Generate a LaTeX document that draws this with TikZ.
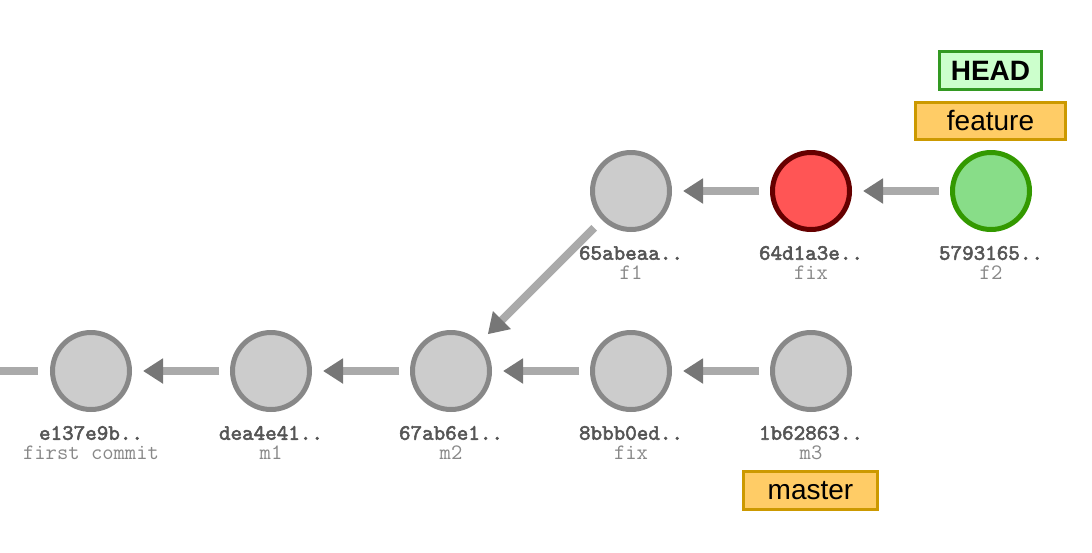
\documentclass[tikz,border=0pt]{standalone}
\usepackage{fontspec}
\setmainfont{Liberation Sans}
\newfontfamily\hashfont{lmmono10-regular.otf}[FakeBold=2.5]
\usetikzlibrary{arrows.meta}
\definecolor{cgfill}{HTML}{CCCCCC}
\definecolor{cgline}{HTML}{888888}
\definecolor{credf}{HTML}{FF5555}
\definecolor{credl}{HTML}{660000}
\definecolor{cgrf}{HTML}{88DD88}
\definecolor{cgrl}{HTML}{339900}
\definecolor{edgec}{HTML}{AAAAAA}
\definecolor{tipc}{HTML}{777777}
\definecolor{hashc}{HTML}{555555}
\definecolor{msgc}{HTML}{888888}
\definecolor{reff}{HTML}{FFCC66}
\definecolor{refl}{HTML}{CC9900}
\definecolor{headf}{HTML}{CCFFCC}
\definecolor{headl}{HTML}{339922}
\tikzset{
  commit/.style={circle,draw=cgline,fill=cgfill,line width=5pt,minimum size=77pt,inner sep=0pt},
  redcommit/.style={commit,draw=credl,fill=credf},
  greencommit/.style={commit,draw=cgrl,fill=cgrf},
  edge/.style={draw=edgec,line width=8pt,-{Triangle[length=20pt,width=24pt,color=tipc]},shorten >=11pt,shorten <=11pt},
  hash/.style={font=\hashfont\fontsize{22}{22}\selectfont,text=hashc,inner sep=0pt},
  msg/.style={font=\ttfamily\fontsize{22}{22}\selectfont,text=msgc,inner sep=0pt},
  refbox/.style={draw=refl,fill=reff,line width=3pt,font=\fontsize{28}{30}\selectfont,inner sep=0pt},
  headbox/.style={draw=headl,fill=headf,line width=3pt,font=\bfseries\fontsize{28}{30}\selectfont,inner sep=0pt}
}
\begin{document}
\begin{tikzpicture}[x=1pt,y=-1pt]
\useasboundingbox (0,0) rectangle (1092,552);
% commits
\node[commit] (c1) at (91,371) {};
\node[commit] (c2) at (271,371) {};
\node[commit] (c3) at (451,371) {};
\node[commit] (c4) at (631,371) {};
\node[commit] (c5) at (811,371) {};
\node[commit] (f1) at (631,191) {};
\node[redcommit] (f2) at (811,191) {};
\node[greencommit] (f3) at (991,191) {};
% labels
\node[hash] (h1) at (91,433) {e137e9b..};
\node[msg] (m1) at (91,453) {first commit};
\node[hash] (h2) at (271,433) {dea4e41..};
\node[msg] (m2) at (271,453) {m1};
\node[hash] (h3) at (451,433) {67ab6e1..};
\node[msg] (m3) at (451,453) {m2};
\node[hash] (h4) at (631,433) {8bbb0ed..};
\node[msg] (m4) at (631,453) {fix};
\node[hash] (h5) at (811,433) {1b62863..};
\node[msg] (m5) at (811,453) {m3};
\node[hash] (h6) at (631,253) {65abeaa..};
\node[msg] (m6) at (631,273) {f1};
\node[hash] (h7) at (811,253) {64d1a3e..};
\node[msg] (m7) at (811,273) {fix};
\node[hash] (h8) at (991,253) {5793165..};
\node[msg] (m8) at (991,273) {f2};
% edges
\coordinate (lft) at (0,371);
\draw[draw=edgec,line width=8pt,shorten >=12pt] (lft) -- (c1);
\draw[edge] (c2) -- (c1);
\draw[edge] (c3) -- (c2);
\draw[edge] (c4) -- (c3);
\draw[edge] (c5) -- (c4);
\draw[edge] (f1) -- (c3);
\draw[edge] (f2) -- (f1);
\draw[edge] (f3) -- (f2);
% refs
\node[headbox,minimum width=102pt,minimum height=38pt] (head) at (990.5,70.5) {HEAD};
\node[refbox,minimum width=150pt,minimum height=37pt] (feature) at (990.5,121) {feature};
\node[refbox,minimum width=134pt,minimum height=38pt] (master) at (810.5,490.5) {master};
\end{tikzpicture}
\end{document}
